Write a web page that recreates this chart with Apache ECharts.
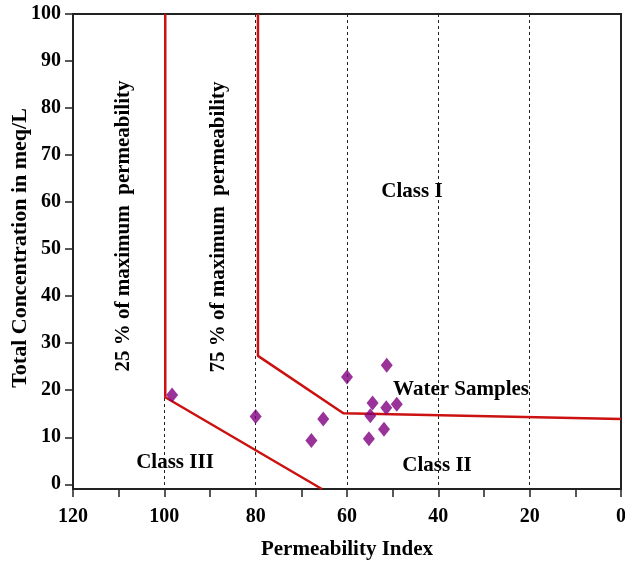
<!DOCTYPE html>
<html>
<head>
<meta charset="utf-8">
<script src="https://cdn.jsdelivr.net/npm/echarts@6/dist/echarts.min.js"></script>
<style>
  html, body { margin: 0; padding: 0; background: #fff; }
  #chart { width: 625px; height: 563px; }
</style>
</head>
<body>
<div id="chart"></div>
<script>
// ===== 数据 =====
// 水样 (Permeability Index, Total Concentration)
const samplePI   = [98.3, 80.0, 67.8, 65.2, 60.0, 51.3, 54.4, 51.4, 49.1, 54.9, 51.9, 55.2]
const sampleConc = [19.0, 14.4,  9.3, 13.9, 22.8, 25.3, 17.3, 16.3, 17.0, 14.6, 11.7,  9.7]

// 分区边界线 (Doneen)
const boundary25X = [99.8, 99.8, 65.5]
const boundary25Y = [100, 18.5, -1]
const boundary75X = [79.5, 79.5, 60.8, 0]
const boundary75Y = [100, 27.3, 15.1, 13.9]

// 刻度
const yTicks = [0, 10, 20, 30, 40, 50, 60, 70, 80, 90, 100]

const font = '"Liberation Serif", "Times New Roman", serif'
const pairs = (xs, ys) => xs.map((x, i) => [x, ys[i]])

const chart = echarts.init(document.getElementById('chart'))

const txt = (text, x, y, size, rotate) => ({
  type: 'text',
  x, y,
  rotation: rotate ? Math.PI / 2 : 0,
  style: {
    text,
    font: `bold ${size}px ${font}`,
    fill: '#000',
    align: 'center',
    verticalAlign: 'middle'
  },
  z: 100
})

chart.setOption({
  animation: false,
  grid: {
    left: 73, right: 4, top: 14, bottom: 74,
    outerBoundsMode: 'none',
    containLabel: false,
    show: true, borderColor: '#222', borderWidth: 2
  },
  xAxis: {
    type: 'value',
    inverse: true,
    min: 0, max: 120, interval: 20,
    name: 'Permeability Index',
    nameLocation: 'middle',
    nameGap: 50,
    nameTextStyle: { fontFamily: font, fontWeight: 'bold', fontSize: 21, color: '#000' },
    axisLine: { onZero: false, lineStyle: { color: '#222', width: 2 } },
    axisTick: { length: 8, lineStyle: { color: '#222', width: 1.5 } },
    minorTick: { show: true, splitNumber: 2, length: 8, lineStyle: { color: '#222', width: 1.5 } },
    axisLabel: { fontFamily: font, fontWeight: 'bold', fontSize: 20, color: '#000', margin: 18 },
    splitLine: { show: true, lineStyle: { color: '#222', type: [3, 3], width: 1 } }
  },
  yAxis: {
    type: 'value',
    min: -1, max: 100,
    axisLine: { onZero: false, lineStyle: { color: '#222', width: 2 } },
    axisTick: { length: 8, customValues: yTicks, lineStyle: { color: '#222', width: 1.5 } },
    axisLabel: { customValues: yTicks, fontFamily: font, fontWeight: 'bold', fontSize: 20, color: '#000', margin: 12 },
    splitLine: { show: false }
  },
  series: [
    {
      type: 'line',
      data: pairs(boundary25X, boundary25Y),
      showSymbol: false,
      lineStyle: { color: '#cc1111', width: 2.5 },
      z: 3
    },
    {
      type: 'line',
      data: pairs(boundary75X, boundary75Y),
      showSymbol: false,
      lineStyle: { color: '#cc1111', width: 2.5 },
      z: 3
    },
    {
      type: 'scatter',
      data: pairs(samplePI, sampleConc),
      symbol: 'diamond',
      symbolSize: [12, 15],
      itemStyle: { color: '#800080' },
      z: 5
    }
  ],
  graphic: [
    txt('Total Concentration in meq/L', 20, 248, 22, true),
    txt('25 % of maximum  permeability', 124, 226, 21, true),
    txt('75 % of maximum  permeability', 219, 227, 21, true),
    txt('Class I', 412, 192, 21),
    txt('Water Samples', 461, 390, 21),
    txt('Class II', 437, 466, 21),
    txt('Class III', 175, 463, 21)
  ]
})
</script>
</body>
</html>
